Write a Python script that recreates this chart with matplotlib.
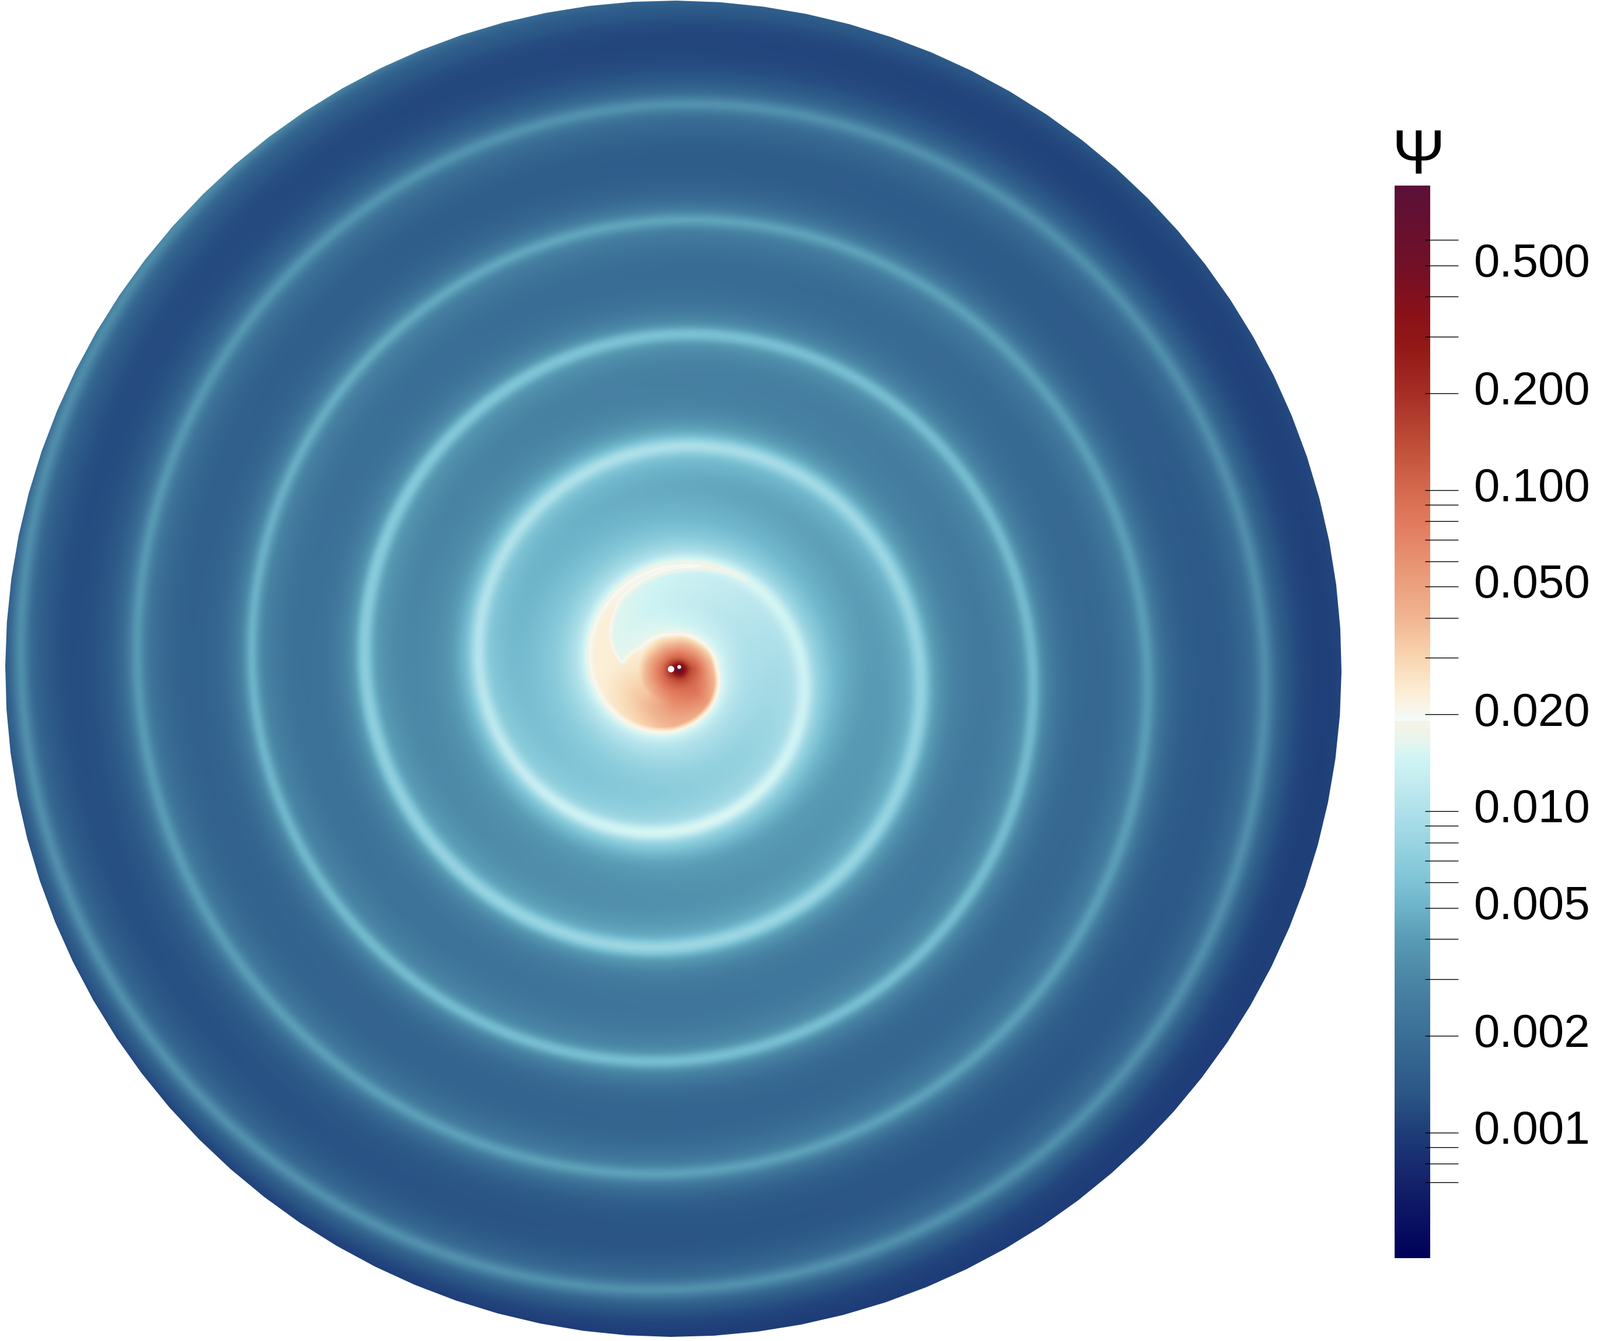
import numpy as np
import matplotlib
matplotlib.use('Agg')
import matplotlib.pyplot as plt
from matplotlib.colors import LinearSegmentedColormap, LogNorm
from matplotlib.patches import Polygon, Circle
from matplotlib.transforms import blended_transform_factory

plt.rcParams['font.family'] = ['Liberation Sans', 'DejaVu Sans']

W, H = 2742, 2298
CX, CY = 1154.0, 1146.0
RIM = 1145.0
N_RIM = 96

# spiral ridge: clockwise angle (deg, unwrapped), radius (px), psi on the ridge
ridge_angle = [186, 213, 267, 303, 345, 360, 450, 540, 630, 720, 810, 900, 990, 1080, 1170, 1260,
               1350, 1440, 1530, 1620, 1710, 1800, 1890, 1980, 2070, 2160, 2250, 2340, 2430, 2520, 2610]
ridge_radius = [88, 68, 61, 64, 72, 74, 103, 139, 179, 220, 279, 333, 381, 421, 477, 529,
                573, 614, 673, 722, 769, 811, 865, 919, 967, 1013, 1063, 1119, 1166, 1216, 1266]
ridge_psi = [.0165, .0165, .0165, .0165, .017, .017, .0185, .0185, .018, .0135, .0165, .0105, .01, .0075, .0085, .007,
             .0058, .0053, .0058, .005, .0043, .004, .0043, .0039, .0035, .0033, .0035, .0034, .0031, .003, .003]

# psi between the arms against radius
band_radius = [0, 150, 230, 330, 430, 530, 720, 920, 1100, 1200]
band_psi = [.01, .0085, .006, .004, .0031, .0024, .0018, .0014, .00105, .00095]

# how much paler the first band is than the radial value above
pale_angle = [186, 230, 270, 315, 360, 405, 450, 540]
pale_gain = [1.8, 1.65, 1.45, 1.25, 1.1, 1.0, 1.0, 1.0]

# inner edge of the crescent
crescent_angle = [186, 207, 232, 255, 280, 310]
crescent_radius = [88, 120, 148, 160, 173, 198]

# psi inside the hot lobe
hot_radius = [0, 20, 40, 60, 80, 100, 120, 140, 190]
hot_angle = [0, 45, 90, 135, 180, 225, 270, 315, 360]
hot_psi = [
    [.25, .25, .25, .25, .25, .25, .25, .25, .25],
    [.17, .16, .125, .105, .09, .085, .095, .12, .17],
    [.11, .1, .08, .058, .048, .04, .042, .06, .11],
    [.048, .08, .062, .035, .026, .022, .021, .028, .048],
    [.023, .055, .048, .035, .025, .021, .02, .02, .023],
    [.023, .034, .04, .03, .024, .022, .02, .02, .023],
    [.023, .027, .027, .026, .023, .023, .02, .02, .023],
    [.021, .021, .021, .022, .023, .023, .021, .02, .021],
    [.02, .02, .02, .02, .02, .02, .02, .02, .02],
]
peak_xy = (1165.0, 1147.0)
peak_psi = 0.88
hole_x = [1150.0, 1164.0]
hole_y = [1146.7, 1143.0]
hole_r = [5.5, 3.3]

# colour bar
psi_min, psi_max = 0.000407, 0.886
cmap_psi = [.000407, .0005, .0007, .001, .0013, .002, .003, .004, .005, .0061, .0078, .01, .0123, .0146, .0166,
            .01905, .01915, .0204, .0232, .03, .04, .0502, .0776, .1, .139, .2, .272, .349, .5, .886]
cmap_hex = ['#000058', '#070d60', '#13226a', '#1e3c78', '#2a5585', '#3a6e96', '#4a85a5', '#599bb4', '#6cb2c8',
            '#7fc4d6', '#96d3e0', '#aee0ea', '#c3ebf0', '#d0f4f4', '#e6f6ee', '#f7f3e5', '#f2fdfb', '#f7f6ee',
            '#fcefd7', '#f8d6b0', '#f1b491', '#eca17e', '#e27c5f', '#d5694e', '#bf4d37', '#a62e25', '#941a17',
            '#8a1118', '#721027', '#5b1038']
tick_values = [.6, .5, .4, .3, .2, .1, .09, .08, .07, .06, .05, .04, .03, .02, .01, .009, .008, .007, .006,
               .005, .004, .003, .002, .001, .0009, .0008, .0007]
label_values = [.5, .2, .1, .05, .02, .01, .005, .002, .001]
label_text = ['0.500', '0.200', '0.100', '0.050', '0.020', '0.010', '0.005', '0.002', '0.001']

log_min, log_max = np.log10(psi_min), np.log10(psi_max)
pos = (np.log10(cmap_psi) - log_min) / (log_max - log_min)
cmap = LinearSegmentedColormap.from_list('psi', list(zip(pos, cmap_hex)), N=2048)
norm = LogNorm(psi_min, psi_max)

# ridge curve on a 1 degree grid, outer part smoothed so the 90 degree readings leave no corners
deg = np.arange(186.0, 2611.0)
dense_r = np.interp(deg, ridge_angle, ridge_radius)
dense_v = np.interp(deg, ridge_angle, np.log10(ridge_psi))
kernel = np.ones(71) / 71
smooth_r = np.convolve(np.pad(dense_r, 35, mode='edge'), kernel, mode='valid')
smooth_v = np.convolve(np.pad(dense_v, 35, mode='edge'), kernel, mode='valid')
blend = np.clip((deg - 360) / 90, 0, 1)
dense_r = dense_r * (1 - blend) + smooth_r * blend
dense_v = dense_v * (1 - blend) + smooth_v * blend

ys, xs = np.mgrid[0:2300, 0:2320]
dx = (xs + 0.5 - CX).astype(np.float32)
dy = (ys + 0.5 - CY).astype(np.float32)
r = np.hypot(dx, dy)
alpha = np.degrees(np.arctan2(dy, dx)) % 360   # image y runs down, so this is clockwise

base = np.interp(r, band_radius, np.log10(band_psi))
# first band between the core edge and the next turn
r_a = np.interp(alpha, deg, dense_r, left=-1e4)
r_next = np.interp(alpha + 360, deg, dense_r)
r_next2 = np.interp(alpha + 720, deg, dense_r)
early = alpha < 186
pale_pos = np.where(early, alpha + 360, alpha)
in_band = np.where(early, (r > r_next) & (r < r_next2), (r > r_a) & (r < r_next))
base = base + in_band * np.log10(np.interp(pale_pos, pale_angle, pale_gain))

extra = np.zeros_like(r)
for k in range(0, 8):
    a_k = alpha + 360 * k
    rk = np.interp(a_k, deg, dense_r, left=-1e4)
    vk = np.interp(a_k, deg, dense_v)
    d = r - rk
    wide = np.where(d < 0, 52.0, 38.0)
    prof = 0.5 * np.exp(-(d / 14.0) ** 2) + 0.5 * np.exp(-(d / wide) ** 2)
    prof[rk < 0] = 0
    extra = np.maximum(extra, prof * np.maximum(vk - base, 0))
field = base + extra

# hot lobe, bilinear in the table above
log_hot = np.log10(hot_psi)
ri = np.clip(np.searchsorted(hot_radius, r) - 1, 0, len(hot_radius) - 2)
ai = np.clip(np.searchsorted(hot_angle, alpha) - 1, 0, len(hot_angle) - 2)
rr = np.array(hot_radius, dtype=float)
aa = np.array(hot_angle, dtype=float)
fr = np.clip((r - rr[ri]) / (rr[ri + 1] - rr[ri]), 0, 1)
fa = (alpha - aa[ai]) / (aa[ai + 1] - aa[ai])
hot = (log_hot[ri, ai] * (1 - fr) * (1 - fa) + log_hot[ri + 1, ai] * fr * (1 - fa)
       + log_hot[ri, ai + 1] * (1 - fr) * fa + log_hot[ri + 1, ai + 1] * fr * fa)
pd = np.hypot(xs + 0.5 - peak_xy[0], ys + 0.5 - peak_xy[1])
hot = hot + (np.log10(peak_psi) - np.log10(.25)) * np.exp(-(pd / 11.0) ** 2)

edge = 12.0
core_bound = np.where(early, r_next, r_a)
m_core = np.clip((core_bound - r) / edge + 0.5, 0, 1)
r_cres = np.interp(alpha, crescent_angle, crescent_radius, left=1e4, right=1e4)
m_cres = np.clip((r - r_cres) / edge + 0.5, 0, 1) * np.clip((r_next - r) / edge + 0.5, 0, 1)
m_cres[early] = 0
mask = np.maximum(m_core, m_cres)
field = field * (1 - mask) + hot * mask

fig = plt.figure(figsize=(W / 100, H / 100), dpi=100)
ax = fig.add_axes([0, 0, 1, 1])
ax.set_xlim(0, W)
ax.set_ylim(H, 0)
ax.axis('off')

im = ax.imshow(10 ** field, extent=(0, 2320, 2300, 0), cmap=cmap, norm=norm, interpolation='bilinear', aspect='auto')
rim_t = np.radians(np.linspace(4, 364, N_RIM + 1)[:-1])
rim = Polygon(np.c_[CX + RIM * np.cos(rim_t), CY + RIM * np.sin(rim_t)], closed=True, transform=ax.transData,
              facecolor='none', edgecolor='none')
ax.add_patch(rim)
im.set_clip_path(rim)
ax.set_xlim(0, W)
ax.set_ylim(H, 0)

for hx, hy, hr in zip(hole_x, hole_y, hole_r):
    ax.add_patch(Circle((hx, hy), hr, color='white', lw=0))

cax = fig.add_axes([2390 / W, 1 - 2155.8 / H, 61 / W, (2155.8 - 317.9) / H])
cb = fig.colorbar(im, cax=cax)
cb.outline.set_visible(False)
cb.ax.minorticks_off()
cax.set_yticks([])
cax.yaxis.set_tick_params(which='both', length=0, labelright=False)
trans = blended_transform_factory(cax.transAxes, cax.transData)
cax.hlines(tick_values, 52 / 61, 109 / 61, transform=trans, color='black', lw=1.0, clip_on=False, zorder=5)
for v, t in zip(label_values, label_text):
    cax.annotate(t, xy=(136 / 61, v), xycoords=trans, xytext=(0, 1), textcoords='offset points',
                 fontsize=57.5, va='center', ha='left', color='black', annotation_clip=False)
ax.text(2431, 270, 'Ψ', fontsize=78, ha='center', va='center', color='black')

fig.savefig('out.png', dpi=100)
